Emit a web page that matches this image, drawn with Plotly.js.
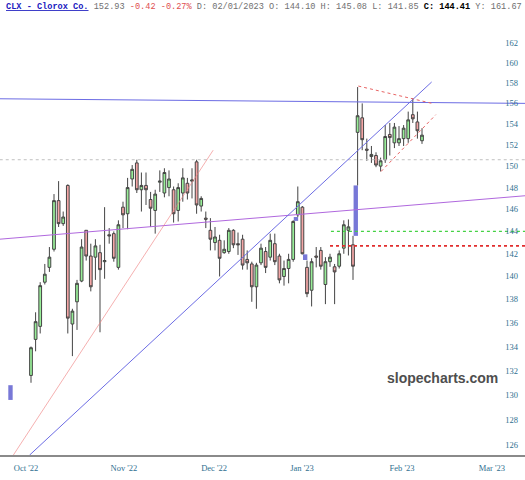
<!DOCTYPE html>
<html>
<head>
<meta charset="utf-8">
<script src="https://cdn.plot.ly/plotly-3.0.1.min.js"></script>
<style>html,body{margin:0;padding:0;background:#fff;}#chart{width:525px;height:480px;}</style>
</head>
<body>
<div id="chart"></div>
<script>
// ---- data ----
const opens  = [131.6,134.6,135.7,139.5,140.8,142.4,146.8,144.7,148.2,135.9,137.8,139.6,144.1,141.8,141.7,142.1,141.3,143.7,143.8,140.8,
                146.2,145.6,148.8,150.3,147.8,148.2,146.9,145.9,148.5,147.5,148.0,147.8,145.9,147.5,148.4,148.6,150.4,146.3,145.2,144.1,
                143.0,143.2,142.1,142.2,144.1,142.9,143.3,141.5,141.1,139.1,141.2,142.2,141.7,142.9,141.8,140.0,140.7,141.5,145.5,146.2,
                140.8,138.8,141.8,142.3,139.3,141.3,140.85,140.9,142.5,144.10,142.8,153.2,154.6,151.6,150.9,151.0,150.0,150.6,153.0,152.2,
                152.2,152.6,152.6,154.9,154.2,152.4];
const highs  = [134.0,136.9,139.5,141.1,142.6,147.4,148.6,145.8,148.3,137.2,139.7,143.3,144.1,142.9,143.3,142.8,146.2,144.3,144.0,145.0,
                146.7,148.9,150.1,150.6,149.4,149.4,147.6,147.8,149.6,149.8,149.6,148.1,148.4,149.8,148.9,149.8,150.6,147.2,145.8,145.2,
                144.4,143.7,143.2,144.3,144.2,143.9,143.7,142.3,141.3,141.2,142.9,142.6,143.8,143.8,142.0,141.4,142.0,145.0,148.1,146.3,
                141.4,141.6,142.6,142.6,141.7,142.0,141.1,142.3,145.0,145.08,143.6,157.6,156.0,152.6,151.9,151.3,150.8,153.9,154.1,154.1,
                153.8,153.9,155.2,156.5,155.2,153.6];
const lows   = [131.0,133.6,135.1,139.3,140.4,142.2,144.4,144.5,135.1,133.2,135.4,139.5,141.4,138.7,139.7,135.2,139.8,142.9,141.3,140.6,
                144.3,144.2,148.1,147.5,145.8,146.4,144.4,143.8,147.6,147.1,147.2,144.8,144.9,146.7,146.9,147.0,145.6,145.8,144.3,142.3,
                142.3,140.0,142.0,142.0,142.5,141.9,140.6,140.6,137.8,137.2,141.0,140.3,141.4,141.0,139.4,139.2,139.4,141.3,145.3,141.95,
                138.2,137.4,140.8,140.6,137.6,140.85,137.6,140.7,142.0,141.85,139.7,148.2,151.5,150.5,150.3,149.9,149.5,150.3,151.0,151.7,
                151.9,151.9,152.2,154.1,152.6,152.1];
const closes = [133.9,136.1,139.2,140.2,141.7,146.8,144.7,145.3,136.4,137.0,139.4,142.6,141.8,139.1,142.7,140.6,141.4,143.6,141.6,144.6,
                145.5,148.0,149.7,147.8,148.2,147.8,146.1,147.4,148.6,149.4,148.8,145.6,148.0,148.9,147.5,148.7,146.4,147.0,145.1,143.3,
                143.5,141.6,142.4,144.1,142.8,142.8,141.0,141.2,139.1,141.0,142.5,140.8,143.2,141.3,139.7,140.7,141.5,144.9,146.7,142.0,
                138.5,141.3,141.7,140.9,141.3,141.7,140.4,142.0,144.6,144.41,140.9,154.8,152.5,151.5,151.1,150.1,150.5,152.8,152.7,153.7,
                152.6,153.6,154.4,154.5,153.35,152.93];

// price gaps (blue boxes): slot, low, high
const gapSlot = [-4.46, 57.6, 59.6, 70.6];
const gapLow  = [129.6, 144.95, 141.45, 143.6];
const gapHigh = [130.8, 145.3, 141.95, 148.2];

// month labels
const monthLabels = ["Oct '22", "Nov '22", "Dec '22", "Jan '23", "Feb '23", "Mar '23"];
const monthSlots  = [-1.09, 20.2, 39.8, 58.9, 80.65, 100.2];

// price tick labels
const priceTicks = [126,128,130,132,134,136,138,140,142,144,146,148,150,152,154,156,158,160,162];

// drawn trendlines: [x0, y0, x1, y1]
const lineHoriz156  = [-6.8, 156.45, 107.5, 156.0];
const lineRisingBlue = [-0.33, 125.2, 87.1, 158.1];
const lineRedThin    = [-3.85, 125.2, 39.6, 151.5];
const linePurple     = [-6.8, 143.3, 107.5, 147.25];
const lineTriTop     = [71.15, 157.7, 87.2, 156.0];
const lineTriBottom  = [76.1, 149.5, 88.0, 154.9];
const levelGray  = [-6.8, 150.6, 107.5, 150.6];
const levelGreen = [65.2, 144.0, 107.5, 144.0];
const levelRed   = [65.0, 142.7, 107.5, 142.7];

// ---- chart ----
const idx = opens.map((_, i) => i);
const axisFont = {family: 'Liberation Serif, DejaVu Serif, serif', size: 8.5, color: '#2f7090'};

function seg(a, color, width, dash) {
  return {type: 'scatter', mode: 'lines', x: [a[0], a[2]], y: [a[1], a[3]],
          line: {color: color, width: width, dash: dash || 'solid'}, hoverinfo: 'skip', showlegend: false};
}

const traces = [
  seg(levelGray, '#c0c0c0', 1, 'dot'),
  seg(linePurple, 'rgb(176,104,222)', 1),
  seg(lineRedThin, 'rgba(240,130,130,0.8)', 0.8),
  seg(lineHoriz156, 'rgb(108,108,228)', 1),
  seg(lineRisingBlue, 'rgb(108,108,228)', 1),
  seg(levelGreen, 'rgb(70,210,70)', 1.2, 'dot'),
  seg(levelRed, 'rgb(225,45,45)', 1.6, 'dot'),
  seg(lineTriTop, 'rgb(232,100,100)', 1, 'dot'),
  seg(lineTriBottom, 'rgb(232,100,100)', 1, 'dot'),
  {
    type: 'bar', x: gapSlot, base: gapLow, y: gapHigh.map((h, i) => h - gapLow[i]),
    width: 0.95, marker: {color: 'rgb(120,120,215)', line: {width: 0}},
    hoverinfo: 'skip', showlegend: false
  },
  {
    type: 'candlestick', x: idx, open: opens, high: highs, low: lows, close: closes,
    increasing: {line: {color: '#444444', width: 1}, fillcolor: '#98ee98'},
    decreasing: {line: {color: '#444444', width: 1}, fillcolor: '#f4a6a6'},
    whiskerwidth: 0, hoverinfo: 'skip', showlegend: false
  }
];

const header = '<span style="color:#2020c0;text-decoration:underline"><b>CLX - Clorox Co.</b></span>' +
  '<span style="color:#707070"> 152.93 </span>' +
  '<span style="color:#e05050">-0.42 -0.27%</span>' +
  '<span style="color:#707070"> D: 02/01/2023 O: 144.10 H: 145.08 L: 141.85 </span>' +
  '<b>C: 144.41</b>' +
  '<span style="color:#707070"> Y: 161.67</span>';

const layout = {
  width: 525, height: 480,
  margin: {l: 0, r: 0, t: 20, b: 25, pad: 0},
  paper_bgcolor: '#ffffff', plot_bgcolor: '#ffffff',
  showlegend: false,
  boxgap: 0.15,
  barmode: 'overlay',
  xaxis: {
    type: 'linear', range: [-6.74, 107.39], rangeslider: {visible: false},
    tickmode: 'array', tickvals: monthSlots, ticktext: monthLabels,
    ticks: '', showgrid: false, zeroline: false,
    showline: true, linecolor: '#8a8a8a', linewidth: 1.5,
    tickfont: axisFont, ticklabelstandoff: 4, fixedrange: true
  },
  yaxis: {
    type: 'log', range: [2.097654, 2.215764], side: 'right',
    ticklabelposition: 'inside', tickmode: 'array', tickvals: priceTicks,
    ticktext: priceTicks.map(String), ticks: '', showgrid: false, zeroline: false,
    showline: false, tickfont: axisFont, ticklabelstandoff: 4, fixedrange: true
  },
  annotations: [
    {xref: 'paper', yref: 'paper', x: 0, y: 1.0299, xanchor: 'left', yanchor: 'middle',
     xshift: 4, showarrow: false, text: header,
     font: {family: 'Liberation Mono, DejaVu Sans Mono, monospace', size: 8.6, color: '#000'}},
    {xref: 'paper', yref: 'paper', x: 0.843, y: 0.177, xanchor: 'center', yanchor: 'middle',
     showarrow: false, text: '<b>slopecharts.com</b>',
     font: {family: 'Liberation Sans, Arial, sans-serif', size: 14, color: '#4e4e4e'}}
  ]
};

Plotly.newPlot('chart', traces, layout, {displayModeBar: false, staticPlot: true});
</script>
</body>
</html>
